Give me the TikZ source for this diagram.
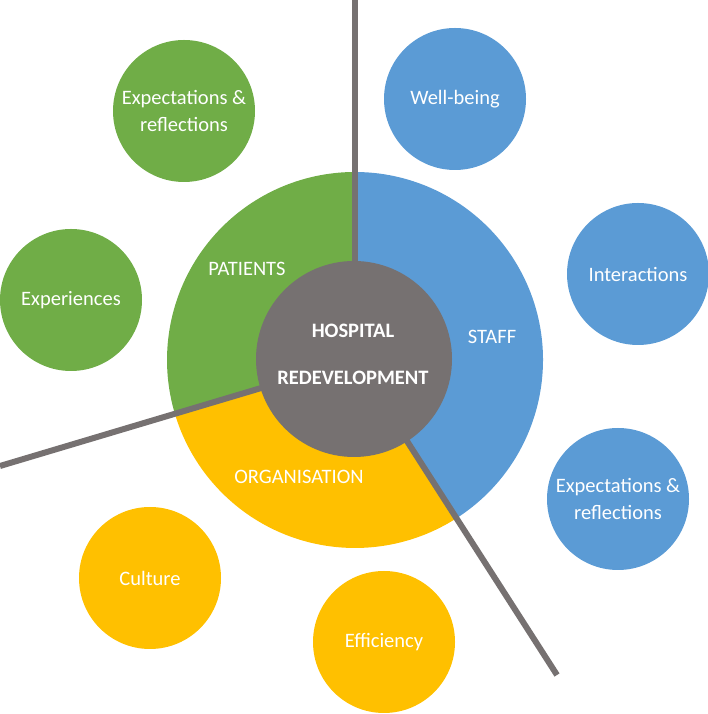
\documentclass[tikz,border=0pt]{standalone}
\usepackage{fontspec}
\setmainfont{Carlito}
\definecolor{pgreen}{HTML}{70AD47}
\definecolor{sblue}{HTML}{5B9BD5}
\definecolor{oyellow}{HTML}{FFC000}
\definecolor{hgray}{HTML}{767171}
\begin{document}
\begin{tikzpicture}[x=1pt,y=1pt,
  bubble/.style={circle,minimum size=142pt,inner sep=0pt,text=white,align=center,
    font=\fontsize{20.5}{27}\selectfont},
  seclabel/.style={text=white,font=\fontsize{20.5}{24}\selectfont},
  hublabel/.style={text=white,font=\fontsize{20.5}{24}\selectfont\bfseries},
  divider/.style={draw=hgray,line width=6pt}]
\useasboundingbox (0,0) rectangle (708,714);
\coordinate (C) at (355,354);
% sectors
\fill[pgreen] (C) -- ++(90:188) arc[start angle=90,end angle=196.6,radius=188] -- cycle;
\fill[oyellow] (C) -- ++(196.6:188) arc[start angle=196.6,end angle=302.7,radius=188] -- cycle;
\fill[sblue] (C) -- ++(-57.3:188) arc[start angle=-57.3,end angle=90,radius=188] -- cycle;
% dividers
\coordinate (topend) at (355,714);
\coordinate (leftend) at (0,248);
\coordinate (rightend) at (557,39);
\draw[divider] (C) -- (topend);
\draw[divider] (C) -- (leftend);
\draw[divider] (C) -- (rightend);
% centre
\node[circle,fill=hgray,minimum size=196pt,inner sep=0pt] (hub) at (354,355) {};
\node[hublabel] (hosp) at (353,383) {HOSPITAL};
\node[hublabel] (redev) at (353,336) {REDEVELOPMENT};
% sector labels
\node[seclabel] (patients) at (247,445) {PATIENTS};
\node[seclabel] (staff) at (492,377) {STAFF};
\node[seclabel] (org) at (299,237) {ORGANISATION};
% bubbles
\node[bubble,fill=pgreen] (gexp) at (184,603) {Expectations \&\\reflections};
\node[bubble,fill=pgreen] (exper) at (71,414) {Experiences};
\node[bubble,fill=sblue] (well) at (455,615) {Well-being};
\node[bubble,fill=sblue] (inter) at (638,440) {Interactions};
\node[bubble,fill=sblue] (bexp) at (618,215) {Expectations \&\\reflections};
\node[bubble,fill=oyellow] (cult) at (150,136) {Culture};
\node[bubble,fill=oyellow] (eff) at (384,72) {Efficiency};
\end{tikzpicture}
\end{document}
